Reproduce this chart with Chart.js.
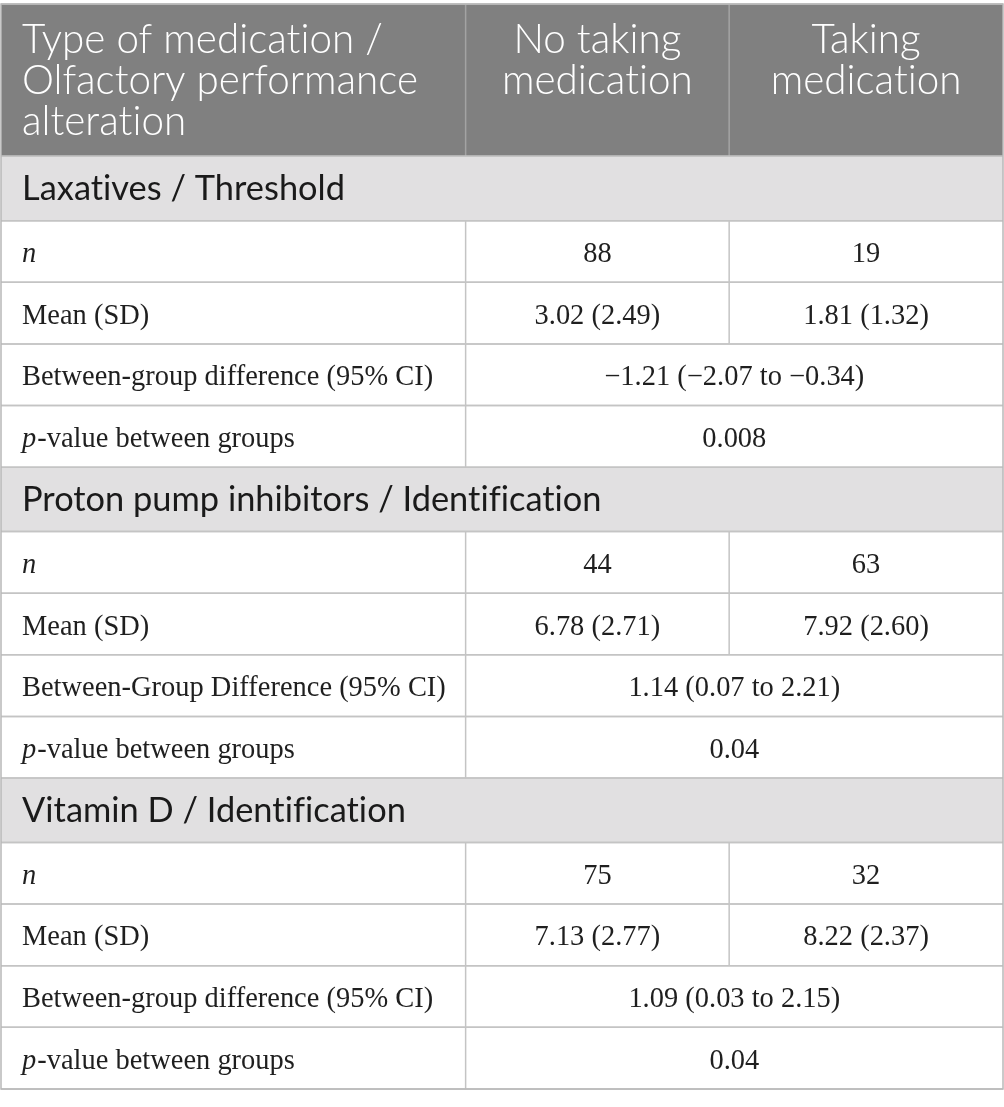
<!DOCTYPE html>
<html><head><meta charset="utf-8">
<script src="https://cdn.jsdelivr.net/npm/chart.js@4.4.0/dist/chart.umd.min.js"></script>
<style>html,body{margin:0;padding:0;background:#fff;}#wrap{width:1004px;height:1107px;position:relative;}</style>
</head><body><div id="wrap"><canvas id="c"></canvas></div>
<script>
// ---- data ----
const columnHeaders = [["Type of medication /", "Olfactory performance", "alteration"], ["No taking", "medication"], ["Taking", "medication"]];
const sectionTitles = ["Laxatives / Threshold", "Proton pump inhibitors / Identification", "Vitamin D / Identification"];
const nNoMedication = [88, 44, 75];
const nMedication = [19, 63, 32];
const meanNoMedication = [3.02, 6.78, 7.13];
const sdNoMedication = [2.49, 2.71, 2.77];
const meanMedication = [1.81, 7.92, 8.22];
const sdMedication = [1.32, 2.60, 2.37];
const diffLabels = ["Between-group difference (95% CI)", "Between-Group Difference (95% CI)", "Between-group difference (95% CI)"];
const diffValues = [-1.21, 1.14, 1.09];
const ciLower = [-2.07, 0.07, 0.03];
const ciUpper = [-0.34, 2.21, 2.15];
const pValues = ["0.008", "0.04", "0.04"];

// ---- layout (styling) ----
const colEdges = [0, 0.4637, 0.7267, 1];
const rowUnits = {header: 2.47, section: 1.045, data: 1};
const fmt = v => (v < 0 ? "\u2212" : "") + Math.abs(v).toFixed(2);

const rows = [{type: "header"}];
sectionTitles.forEach((t, i) => {
  rows.push({type: "section", text: t});
  rows.push({type: "data", label: [["n", true]], cells: [String(nNoMedication[i]), String(nMedication[i])]});
  rows.push({type: "data", label: [["Mean (SD)", false]], cells: [fmt(meanNoMedication[i]) + " (" + sdNoMedication[i].toFixed(2) + ")", fmt(meanMedication[i]) + " (" + sdMedication[i].toFixed(2) + ")"]});
  rows.push({type: "data", label: [[diffLabels[i], false]], span: fmt(diffValues[i]) + " (" + fmt(ciLower[i]) + " to " + fmt(ciUpper[i]) + ")"});
  rows.push({type: "data", label: [["p", true], ["-value between groups", false]], span: pValues[i]});
});
let acc = 0;
rows.forEach(r => { r.y0 = acc; acc += rowUnits[r.type]; r.y1 = acc; });
const totalUnits = acc;

const SANS = "Lato", SERIF = "'Liberation Serif'";
function fitSize(ctx, text, font, target) {
  ctx.font = font.replace("SIZE", "100px");
  return 100 * target / ctx.measureText(text).width;
}

const tablePlugin = {
  id: "tablePlugin",
  afterDraw(chart) {
    const {ctx, scales: {x, y}} = chart;
    const X = v => x.getPixelForValue(v), Y = v => y.getPixelForValue(v);
    ctx.save();
    if ("letterSpacing" in ctx) ctx.letterSpacing = "0.01px";
    const hSize = fitSize(ctx, "Olfactory performance", "300 SIZE " + SANS, 396);
    const sSize = fitSize(ctx, "Laxatives / Threshold", "400 SIZE " + SANS, 323);
    const dSize = fitSize(ctx, "Between-group difference (95% CI)", "400 SIZE " + SERIF, 411);
    const padL = 21;
    // fills
    rows.forEach(r => {
      const top = Y(r.y0), bot = Y(r.y1);
      ctx.fillStyle = r.type === "header" ? "#808080" : r.type === "section" ? "#e1e0e1" : "#ffffff";
      ctx.fillRect(X(0), top, X(1) - X(0), bot - top);
    });
    // lines
    ctx.lineWidth = 1.5;
    rows.forEach(r => {
      const top = Y(r.y0), bot = Y(r.y1);
      if (r.type === "header") {
        ctx.strokeStyle = "#a3a3a3";
        [1, 2].forEach(k => { ctx.beginPath(); ctx.moveTo(X(colEdges[k]), top); ctx.lineTo(X(colEdges[k]), bot); ctx.stroke(); });
      } else if (r.type === "data") {
        ctx.strokeStyle = "#c4c4c4";
        const ks = r.cells ? [1, 2] : [1];
        ks.forEach(k => { ctx.beginPath(); ctx.moveTo(X(colEdges[k]), top); ctx.lineTo(X(colEdges[k]), bot); ctx.stroke(); });
      }
    });
    ctx.strokeStyle = "#c4c4c4";
    rows.forEach(r => {
      [r.y0, r.y1].forEach(v => { ctx.beginPath(); ctx.moveTo(X(0), Y(v)); ctx.lineTo(X(1), Y(v)); ctx.stroke(); });
    });
    ctx.strokeStyle = "#b8b8b8";
    ctx.strokeRect(X(0), Y(0), X(1) - X(0), Y(totalUnits) - Y(0));
    // text
    rows.forEach(r => {
      const top = Y(r.y0), bot = Y(r.y1), mid = (top + bot) / 2;
      if (r.type === "header") {
        ctx.fillStyle = "#ffffff";
        ctx.font = "300 " + hSize + "px " + SANS;
        columnHeaders.forEach((lines, c) => {
          lines.forEach((ln, li) => {
            const by = top + 49 + li * 41;
            if (c === 0) { ctx.textAlign = "left"; ctx.fillText(ln, X(0) + padL, by); }
            else { ctx.textAlign = "center"; ctx.fillText(ln, (X(colEdges[c]) + X(colEdges[c + 1])) / 2, by); }
          });
        });
      } else if (r.type === "section") {
        ctx.fillStyle = "#1a1a1a";
        ctx.textAlign = "left";
        ctx.font = "400 " + sSize + "px " + SANS;
        ctx.fillText(r.text, X(0) + padL, mid + 11.5);
      } else {
        ctx.fillStyle = "#1f1f1f";
        ctx.textAlign = "left";
        let cx = X(0) + padL;
        const by = mid + 10.5;
        r.label.forEach(([t, it]) => {
          ctx.font = (it ? "italic " : "") + "400 " + dSize + "px " + SERIF;
          ctx.fillText(t, cx, by);
          cx += ctx.measureText(t).width + (it ? 1 : 0);
        });
        ctx.font = "400 " + dSize + "px " + SERIF;
        ctx.textAlign = "center";
        if (r.cells) {
          r.cells.forEach((t, c) => ctx.fillText(t, (X(colEdges[c + 1]) + X(colEdges[c + 2])) / 2, by));
        } else {
          ctx.fillText(r.span, (X(colEdges[1]) + X(colEdges[3])) / 2, by);
        }
      }
    });
    ctx.restore();
  }
};

new Chart(document.getElementById("c"), {
  type: "scatter",
  data: {datasets: [{data: [], showLine: false}]},
  options: {
    responsive: true, maintainAspectRatio: false, animation: false,
    devicePixelRatio: 1,
    layout: {padding: {left: 1, right: 1, top: 4, bottom: 18}},
    plugins: {legend: {display: false}, tooltip: {enabled: false}},
    scales: {
      x: {type: "linear", min: 0, max: 1, display: false},
      y: {type: "linear", min: 0, max: totalUnits, reverse: true, display: false}
    }
  },
  plugins: [tablePlugin]
});
</script>
</body></html>
